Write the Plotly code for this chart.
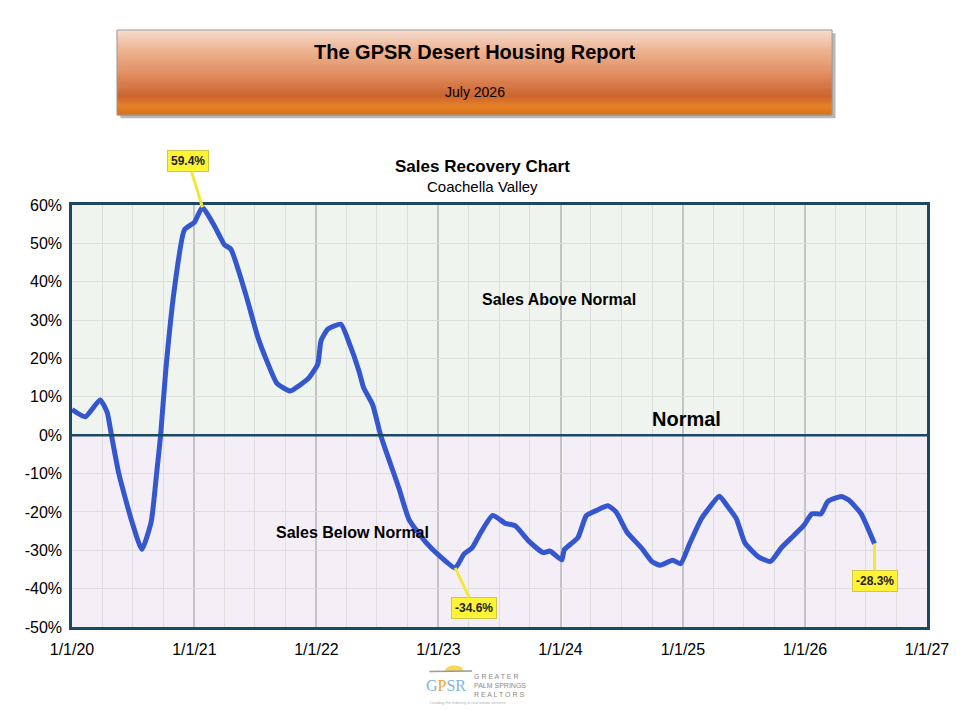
import plotly.graph_objects as go

# ---- data ----
dates = [
    "2020-01-01", "2020-02-10", "2020-03-25", "2020-04-15", "2020-04-28",
    "2020-05-20", "2020-06-28", "2020-07-28", "2020-08-25", "2020-09-10",
    "2020-09-22", "2020-10-08", "2020-11-02", "2020-12-02", "2021-01-01",
    "2021-01-25", "2021-02-25", "2021-03-20", "2021-04-01", "2021-04-20",
    "2021-06-03", "2021-07-10", "2021-08-05", "2021-09-05", "2021-10-15",
    "2021-11-10", "2021-12-10", "2022-01-05", "2022-01-15", "2022-02-05",
    "2022-03-15", "2022-04-10", "2022-05-08", "2022-05-22", "2022-06-18",
    "2022-07-12", "2022-09-05", "2022-10-05", "2022-11-25", "2023-01-05",
    "2023-02-20", "2023-03-18", "2023-04-12", "2023-05-08", "2023-06-12",
    "2023-07-20", "2023-08-18", "2023-09-28", "2023-11-10", "2023-11-30",
    "2024-01-05", "2024-01-12", "2024-02-22", "2024-03-18", "2024-04-18",
    "2024-05-22", "2024-06-15", "2024-07-18", "2024-08-30", "2024-10-01",
    "2024-10-25", "2024-12-01", "2024-12-25", "2025-01-20", "2025-02-25",
    "2025-03-15", "2025-04-20", "2025-05-15", "2025-06-10", "2025-07-05",
    "2025-08-15", "2025-09-20", "2025-10-22", "2025-11-28", "2025-12-28",
    "2026-01-22", "2026-02-18", "2026-03-10", "2026-04-20", "2026-05-12",
    "2026-06-18", "2026-07-28",
]
recovery = [
    6.7, 4.8, 9.2, 6.0, 0.0,
    -10.0, -22.5, -29.8, -22.5, -10.0,
    0.0, 17.5, 38.0, 53.5, 55.5,
    59.4, 55.3, 51.5, 49.6, 48.5,
    36.9, 25.5, 19.5, 13.5, 11.5,
    12.9, 15.0, 18.5, 24.7, 27.7,
    28.9, 23.8, 16.8, 12.4, 8.0,
    0.0, -13.9, -22.0, -28.0, -31.5,
    -34.6, -31.0, -29.3, -25.3, -20.9,
    -23.0, -23.6, -27.6, -30.6, -30.2,
    -32.5, -29.9, -26.7, -21.0, -19.6,
    -18.4, -20.0, -25.3, -29.4, -33.0,
    -33.9, -32.6, -33.5, -28.5, -21.8,
    -19.6, -15.9, -18.6, -21.8, -28.0,
    -31.7, -32.9, -29.4, -26.2, -23.6,
    -20.5, -20.5, -17.3, -16.0, -16.9,
    -20.5, -28.3,
]

x_tick_vals = ["2020-01-01", "2021-01-01", "2022-01-01", "2023-01-01",
               "2024-01-01", "2025-01-01", "2026-01-01", "2027-01-01"]
x_tick_text = ["1/1/20", "1/1/21", "1/1/22", "1/1/23",
               "1/1/24", "1/1/25", "1/1/26", "1/1/27"]
y_tick_vals = [-50, -40, -30, -20, -10, 0, 10, 20, 30, 40, 50, 60]
y_tick_text = [f"{v}%" for v in y_tick_vals]

NAVY = "#1c4866"
FONT = "Liberation Sans, Arial, sans-serif"

fig = go.Figure()

fig.add_trace(go.Scatter(
    x=dates, y=recovery, mode="lines",
    line=dict(color="#3456cf", width=5, shape="spline", smoothing=0.5),
    hoverinfo="x+y", showlegend=False,
))

# shaded halves of the plot
fig.add_shape(type="rect", xref="x domain", yref="y", x0=0, x1=1, y0=0, y1=60,
              fillcolor="#eff4ef", line_width=0, layer="below")
fig.add_shape(type="rect", xref="x domain", yref="y", x0=0, x1=1, y0=-50, y1=0,
              fillcolor="#f4eef6", line_width=0, layer="below")
# the "normal" line
fig.add_shape(type="line", xref="x domain", yref="y", x0=0, x1=1, y0=0, y1=0,
              line=dict(color=NAVY, width=2.5))

# ---- header banner (stacked strips fake the gradient) ----
bx0, bx1, by0, by1 = 0.0526, 0.889, 1.2133, 1.4147
fig.add_shape(type="rect", xref="paper", yref="paper",
              x0=bx0 + 0.004, x1=bx1 + 0.004, y0=by0 - 0.008, y1=by1 - 0.008,
              fillcolor="#b8b8b8", line_width=0)
stops = [(0.0, (246, 222, 208)), (0.22, (238, 182, 150)), (0.5, (226, 144, 100)),
         (0.78, (204, 100, 46)), (0.9, (232, 128, 34)), (1.0, (214, 112, 30))]


def grad(t):
    for (t0, c0), (t1, c1) in zip(stops, stops[1:]):
        if t <= t1:
            f = (t - t0) / (t1 - t0)
            return "rgb(%d,%d,%d)" % tuple(round(a + (b - a) * f) for a, b in zip(c0, c1))
    return "rgb(%d,%d,%d)" % stops[-1][1]


n_strips = 40
for i in range(n_strips):
    t0 = i / n_strips
    t1 = (i + 1) / n_strips
    fig.add_shape(type="rect", xref="paper", yref="paper",
                  x0=bx0, x1=bx1,
                  y1=by1 - (by1 - by0) * t0, y0=by1 - (by1 - by0) * t1 - 0.001,
                  fillcolor=grad((t0 + t1) / 2), line_width=0)
fig.add_shape(type="rect", xref="paper", yref="paper", x0=bx0, x1=bx1, y0=by0, y1=by1,
              line=dict(color="#9a9a9a", width=1), fillcolor="rgba(0,0,0,0)")

texts = [
    dict(text="<b>The GPSR Desert Housing Report</b>", x=0.4713, y=1.3626, size=20),
    dict(text="July 2026", x=0.4713, y=1.2678, size=14),
    dict(text="<b>Sales Recovery Chart</b>", x=0.4807, y=1.0924, size=17),
    dict(text="Coachella Valley", x=0.4807, y=1.0427, size=15),
    dict(text="<b>Sales Above Normal</b>", x=0.5696, y=0.777, size=16),
    dict(text="<b>Normal</b>", x=0.719, y=0.493, size=20),
    dict(text="<b>Sales Below Normal</b>", x=0.3275, y=0.225, size=16),
]
for t in texts:
    fig.add_annotation(text=t["text"], x=t["x"], y=t["y"], xref="paper", yref="paper",
                       xanchor="center", yanchor="middle", showarrow=False,
                       font=dict(family=FONT, size=t["size"], color="black"))

# ---- yellow call-outs ----
i_max = recovery.index(max(recovery))
i_min = recovery.index(min(recovery))
i_last = len(recovery) - 1
for idx, ax, ay in [(i_max, -14, -46), (i_min, 19, 40), (i_last, 0, 37)]:
    fig.add_annotation(
        x=dates[idx], y=recovery[idx], xref="x", yref="y",
        text=f"<b>{recovery[idx]:.1f}%</b>", showarrow=True, arrowhead=0,
        arrowwidth=3, arrowcolor="#f3e83a", ax=ax, ay=ay, standoff=0,
        bgcolor="#fff335", bordercolor="#d2c64a", borderwidth=1, borderpad=3,
        font=dict(family=FONT, size=12, color="#222222"),
    )

# ---- footer logo (approximation) ----
fig.add_shape(type="circle", xref="paper", yref="paper",
              x0=0.4365, x1=0.4575, y0=-0.1165, y1=-0.0905,
              fillcolor="#f7d75a", line_width=0, layer="above")
fig.add_shape(type="rect", xref="paper", yref="paper",
              x0=0.42, x1=0.475, y0=-0.128, y1=-0.1045,
              fillcolor="white", line_width=0)
fig.add_shape(type="line", xref="paper", yref="paper",
              x0=0.418, x1=0.468, y0=-0.1055, y1=-0.1045,
              line=dict(color="#9a9a9a", width=1.5))
fig.add_annotation(
    text="<span style='color:#7fb5db'>G</span><span style='color:#f0a33a'>P</span>"
         "<span style='color:#7fb5db'>SR</span>",
    x=0.437, y=-0.1385, xref="paper", yref="paper", showarrow=False,
    xanchor="center", yanchor="middle",
    font=dict(family="Times New Roman, Liberation Serif, serif", size=16))
fig.add_annotation(text="G R E A T E R<br>PALM SPRINGS<br>R E A L T O R S",
                   x=0.468, y=-0.1375, xref="paper", yref="paper", showarrow=False,
                   xanchor="left", yanchor="middle", align="left",
                   font=dict(family=FONT, size=7, color="#8a8a8a"))
fig.add_annotation(text="Leading the industry in real estate services",
                   x=0.4635, y=-0.178, xref="paper", yref="paper", showarrow=False,
                   xanchor="center", yanchor="middle",
                   font=dict(family=FONT, size=4, color="#b0b0b0"))

fig.update_xaxes(
    type="date", range=["2020-01-01", "2027-01-01"],
    tickvals=x_tick_vals, ticktext=x_tick_text,
    showgrid=True, gridcolor="#c4c4c4", gridwidth=2,
    minor=dict(dtick="M3", showgrid=True, gridcolor="#dedede", gridwidth=1),
    showline=True, linecolor=NAVY, linewidth=2.5, mirror=True,
    ticks="", ticklabelstandoff=6,
    tickfont=dict(family=FONT, size=16, color="black"),
    zeroline=False,
)
fig.update_yaxes(
    range=[-50, 60], tickvals=y_tick_vals, ticktext=y_tick_text,
    showgrid=True, gridcolor="#dedede", gridwidth=1,
    showline=True, linecolor=NAVY, linewidth=2.5, mirror=True,
    ticks="", ticklabelstandoff=4,
    tickfont=dict(family=FONT, size=16, color="black"),
    zeroline=False,
)

# the page body adds an 8px offset, so margins are shifted to compensate
fig.update_layout(
    width=964, height=711,
    margin=dict(l=64, r=45, t=197, b=92),
    paper_bgcolor="white", plot_bgcolor="rgba(0,0,0,0)",
    font=dict(family=FONT),
    showlegend=False,
)

fig.write_html("out.html")
